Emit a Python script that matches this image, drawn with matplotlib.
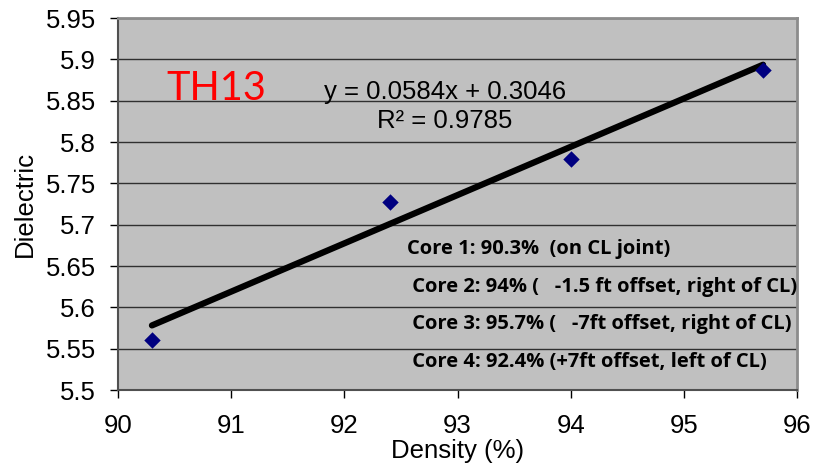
import matplotlib
matplotlib.use("Agg")
import matplotlib.pyplot as plt
import numpy as np

density = [90.3, 92.4, 94.0, 95.7]
dielectric = [5.561, 5.727, 5.779, 5.887]
slope, intercept = 0.0584, 0.3046
r_squared = 0.9785
x_ticks = [90, 91, 92, 93, 94, 95, 96]
y_ticks = [5.5, 5.55, 5.6, 5.65, 5.7, 5.75, 5.8, 5.85, 5.9, 5.95]
core_notes = [
    "Core 1: 90.3%  (on CL joint)",
    " Core 2: 94% (   -1.5 ft offset, right of CL)",
    " Core 3: 95.7% (   -7ft offset, right of CL)",
    " Core 4: 92.4% (+7ft offset, left of CL)",
]

plt.rcParams['font.family'] = ['Liberation Sans', 'DejaVu Sans']

fig = plt.figure(figsize=(8.17, 4.66), dpi=100)
ax = fig.add_axes([118 / 817, 76 / 466, 679 / 817, 372 / 466])
ax.set_facecolor('#C0C0C0')

ax.set_xlim(90, 96)
ax.set_ylim(5.5, 5.95)
ax.set_xticks(x_ticks)
ax.set_yticks(y_ticks)
ax.set_xticklabels([f"{v:g}" for v in x_ticks])
ax.set_yticklabels([f"{v:g}" for v in y_ticks])
ax.tick_params(axis='both', direction='out', length=6, width=1, color='black',
               labelsize=18.5)
ax.tick_params(axis='y', pad=10)
ax.tick_params(axis='x', pad=11)
ax.grid(axis='y', color='#303030', linewidth=1.0)
ax.set_axisbelow(True)

for side in ['top', 'right']:
    ax.spines[side].set_color('#8C8C8C')
    ax.spines[side].set_linewidth(2)
for side in ['left', 'bottom']:
    ax.spines[side].set_color('#505050')
    ax.spines[side].set_linewidth(1.5)

# regression line from the stated equation
xs = np.array([min(density), max(density)])
ax.plot(xs, slope * xs + intercept, color='black', linewidth=4.5,
        solid_capstyle='round', zorder=3)

ax.scatter(density, dielectric, marker='D', s=70, color='#000080', zorder=4,
           linewidths=0)

ax.set_xlabel("Density (%)", fontsize=18.5, labelpad=1)
ax.set_ylabel("Dielectric", fontsize=18.5, labelpad=6)

ax.text(90.43, 5.865, "TH13", color='red', fontsize=28.5, family='Lato',
        ha='left', va='center')
ax.text(92.89, 5.861, f"y = {slope}x + {intercept}", fontsize=18.5,
        ha='center', va='center')
ax.text(92.89, 5.825, f"R² = {r_squared}", fontsize=18.5,
        ha='center', va='center')

note_y = [5.671, 5.625, 5.580, 5.534]
for txt, yv in zip(core_notes, note_y):
    ax.text(92.55, yv, txt, fontsize=14.5, fontweight='bold', family='Open Sans',
            ha='left', va='center')

fig.savefig("out.png", dpi=100, facecolor='white')
